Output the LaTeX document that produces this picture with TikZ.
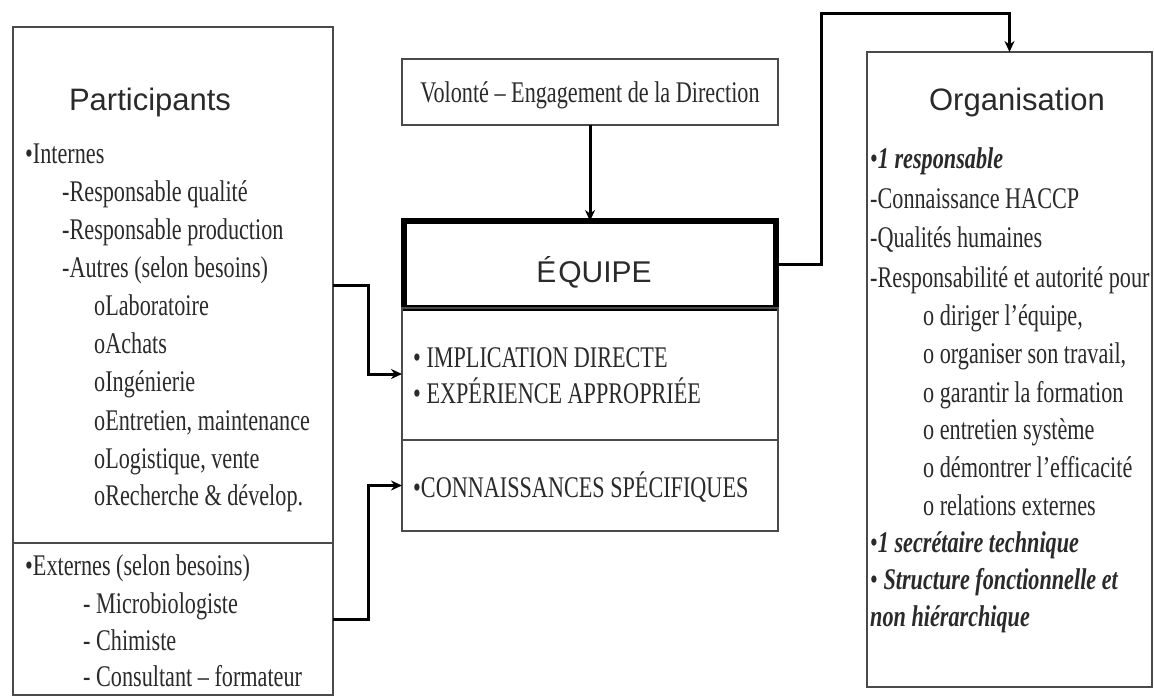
\documentclass[tikz,border=0pt]{standalone}
\usepackage{fontspec}
\setmainfont{Liberation Serif}
\newfontfamily\bodyserif[FakeStretch=0.74]{Liberation Serif}
\newfontfamily\headsans{Liberation Sans}
\usetikzlibrary{arrows.meta,calc}
\definecolor{ink}{HTML}{2A2A2A}
\definecolor{frame}{HTML}{4A4A4A}
\tikzset{
  box/.style={draw=frame, line width=2pt, inner sep=0pt, outer sep=0pt, anchor=north west},
  line/.style={anchor=base west, inner sep=0pt, font=\bodyserif\fontsize{30}{36}\selectfont, text=ink},
  head/.style={anchor=base, inner sep=0pt, font=\headsans\fontsize{31}{36}\selectfont, text=ink},
  link/.style={draw=black, line width=3pt, -{Stealth[length=11pt,width=10pt]}},
}
\newcommand{\bi}[1]{{\bfseries\itshape #1}}
\begin{document}
\begin{tikzpicture}[x=1pt,y=-1pt]
\useasboundingbox (0,0) rectangle (1154,697);

% ---- left column: participants
\node[box, minimum width=320pt, minimum height=516pt] (internes) at (13,27) {};
\node[box, minimum width=320pt, minimum height=152pt] (externes) at (13,543) {};
\node[head] (phead) at (150,110) {Participants};
\node[line] (p1)  at (25,163) {•Internes};
\node[line] (p2)  at (62,201) {-Responsable qualité};
\node[line] (p3)  at (62,239) {-Responsable production};
\node[line] (p4)  at (62,277) {-Autres (selon besoins)};
\node[line] (p5)  at (94,315) {oLaboratoire};
\node[line] (p6)  at (94,353) {oAchats};
\node[line] (p7)  at (94,391) {oIngénierie};
\node[line] (p8)  at (94,430) {oEntretien, maintenance};
\node[line] (p9)  at (94,468) {oLogistique, vente};
\node[line] (p10) at (94,505) {oRecherche \& dévelop.};
\node[line] (e1)  at (25,575) {•Externes (selon besoins)};
\node[line] (e2)  at (83,613) {- Microbiologiste};
\node[line] (e3)  at (83,650) {- Chimiste};
\node[line] (e4)  at (83,686) {- Consultant – formateur};

% ---- centre column: direction and team
\node[box, minimum width=376pt, minimum height=66pt] (direction) at (402,59) {};
\node[line, anchor=base] (dtext) at (590,102) {Volonté – Engagement de la Direction};
\node[box, draw=black, line width=5.5pt, minimum width=372pt, minimum height=87pt] (equipe) at (404,221) {};
\node[head, font=\headsans\fontsize{30}{36}\selectfont] (etext) at (594,282) {É\kern2ptQUIPE};
\node[box, minimum width=376pt, minimum height=132pt] (qualif) at (402,308) {};
\node[box, minimum width=376pt, minimum height=91pt] (savoir) at (402,440) {};
\node[line] (q1) at (413,367) {• IMPLICATION DIRECTE};
\node[line] (q2) at (413,403) {• EXPÉRIENCE APPROPRIÉE};
\node[line] (q3) at (413,497) {•CONNAISSANCES SPÉCIFIQUES};

% ---- right column: organisation
\node[box, minimum width=285pt, minimum height=635pt] (orga) at (867,52) {};
\node[head] (ohead) at (1017,110) {Organisation};
\node[line] (o1)  at (870,168) {•\bi{1 responsable}};
\node[line] (o2)  at (870,208) {-Connaissance HACCP};
\node[line] (o3)  at (870,247) {-Qualités humaines};
\node[line] (o4)  at (870,287) {-Responsabilité et autorité pour};
\node[line] (o5)  at (923,325) {o diriger l’équipe,};
\node[line] (o6)  at (923,363) {o organiser son travail,};
\node[line] (o7)  at (923,402) {o garantir la formation};
\node[line] (o8)  at (923,439) {o entretien système};
\node[line] (o9)  at (923,477) {o démontrer l’efficacité};
\node[line] (o10) at (923,515) {o relations externes};
\node[line] (o11) at (870,552) {•\bi{1 secrétaire technique}};
\node[line] (o12) at (870,589) {• \bi{Structure fonctionnelle et}};
\node[line] (o13) at (870,626) {\bi{non hiérarchique}};

% ---- connectors
\draw[link] (direction.south) -- (equipe.north);
\draw[link] (internes.east) -- ++(35,0) |- (qualif.west);
\draw[link] (externes.east) -- ++(35,0) |- (savoir.west);
\draw[link] (equipe.east) -- ++(45,0) |- ($(orga.north)+(0,-39)$) -- (orga.north);
\end{tikzpicture}
\end{document}
